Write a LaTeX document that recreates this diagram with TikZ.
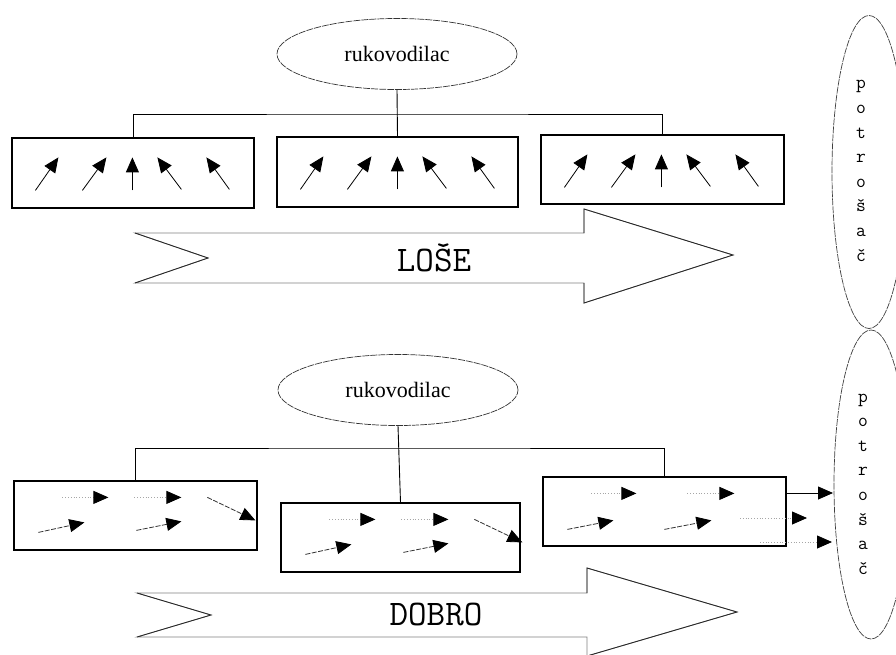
\documentclass[tikz,border=0pt]{standalone}
\usepackage{fontspec}
\setmainfont{Liberation Serif}
\usetikzlibrary{arrows.meta,shapes.geometric}
\tikzset{
  boss/.style={ellipse,draw=black!80,line width=0.7pt,dash pattern=on 7pt off 1pt,minimum width=240pt,minimum height=71pt,inner sep=0pt,font=\fontsize{22}{22}\selectfont},
  cons/.style={ellipse,draw=black!75,line width=0.7pt,dash pattern=on 7pt off 1pt,minimum width=74pt,inner sep=0pt},
  letters/.style={align=center,inner sep=0pt,font=\ttfamily\fontsize{19}{24.6}\selectfont},
  unit/.style={rectangle,draw=black,line width=1.2pt,inner sep=0pt},
  link/.style={draw=black,line width=0.9pt},
  ar/.style={line width=0.8pt,-{Triangle[length=15pt,width=13pt,color=black]}},
  grayar/.style={ar,draw=black!35,dotted},
  dashar/.style={ar,draw=black!80,dash pattern=on 5pt off 1.5pt},
  bigarrow/.style={draw=black!50,line width=0.8pt,fill=white},
  bighead/.style={draw=black!85,line width=0.8pt},
  bigtext/.style={font=\ttfamily\fontsize{36}{36}\selectfont,inner sep=0pt}
}
\begin{document}
\begin{tikzpicture}[x=1pt,y=-1pt]
\useasboundingbox (0,0) rectangle (896,655);
\fill[white] (0,0) rectangle (896,655);

% ===== top half (LOSE) =====
\node[boss] (e1) at (397,54) {rukovodilac};
\node[unit,minimum width=242pt,minimum height=70pt] (a1) at (133,173) {};
\node[unit,minimum width=241pt,minimum height=70pt] (a2) at (397.5,172) {};
\node[unit,minimum width=243pt,minimum height=69pt] (a3) at (662.5,169.5) {};
\coordinate (busA) at (397,114);
\draw[link] (e1.south) -- (a2.north);
\draw[link] (a1.north) |- (busA) -| (a3.north);

\foreach \b in {a1,a2,a3}{
  \begin{scope}[shift={(\b.north west)}]
    \draw[ar] (24,53) -- (47,20);
    \draw[ar] (71,53) -- (95,20);
    \draw[ar] (121,53) -- (121,20);
    \draw[ar] (170,52) -- (146,20);
    \draw[ar] (218,52) -- (195,20);
  \end{scope}
}

\draw[bigarrow] (135,233) -- (584,233) -- (584,209) -- (733,255) -- (584,303) -- (584,283) -- (135,283) -- (208,258) -- cycle;
\draw[bighead] (584,233) -- (584,209) -- (733,255) -- (584,303) -- (584,283);
\draw[bighead] (135,233) -- (208,258) -- (135,283);
\node[bigtext] (t1) at (434,258) {LOŠE};

\node[cons,minimum height=313pt] (c1) at (869,172) {};
\node[letters] (l1) at (861,171) {p\\o\\t\\r\\o\\š\\a\\č};

% ===== bottom half (DOBRO) =====
\node[boss] (e2) at (398,390) {rukovodilac};
\node[unit,minimum width=243pt,minimum height=69pt] (b1) at (135.5,515.5) {};
\node[unit,minimum width=239pt,minimum height=69pt] (b2) at (400.5,537.5) {};
\node[unit,minimum width=243pt,minimum height=69pt] (b3) at (664.5,511.5) {};
\coordinate (busB) at (399,448);
\draw[link] (e2.south) -- (b2.north);
\draw[link] (b1.north) |- (busB) -| (b3.north);

\foreach \b in {b1,b2}{
  \begin{scope}[shift={(\b.north west)}]
    \draw[grayar] (49,17) -- (95,17);
    \draw[grayar] (121,17) -- (168,17);
    \draw[dashar] (25,52) -- (71,42);
    \draw[dashar] (123,50) -- (168,41);
    \draw[dashar] (194,17) -- (242,40);
  \end{scope}
}
\begin{scope}[shift={(b3.north west)}]
  \draw[grayar] (49,17) -- (94,17);
  \draw[grayar] (145,17) -- (192,17);
  \draw[dashar] (25,53) -- (71,44);
  \draw[dashar] (122,53) -- (169,44);
\end{scope}

\node[cons,minimum height=309pt] (c2) at (871,484.5) {};
\node[letters] (l2) at (863,484) {p\\o\\t\\r\\o\\š\\a\\č};

\coordinate (o1) at (833,493);
\coordinate (o2s) at (740,518);
\coordinate (o2) at (807,518);
\coordinate (o3s) at (760,542);
\coordinate (o3) at (832,542);
\draw[ar,draw=black] (b3.east |- o1) -- (o1);
\draw[grayar] (o2s) -- (o2);
\draw[grayar] (o3s) -- (o3);

\draw[bigarrow] (137,593) -- (587,593) -- (587,568) -- (737,612) -- (587,656) -- (587,637) -- (137,637) -- (211,615) -- cycle;
\draw[bighead] (587,593) -- (587,568) -- (737,612) -- (587,656);
\draw[bighead] (137,593) -- (211,615) -- (137,637);
\node[bigtext] (t2) at (436,614) {DOBRO};
\end{tikzpicture}
\end{document}
